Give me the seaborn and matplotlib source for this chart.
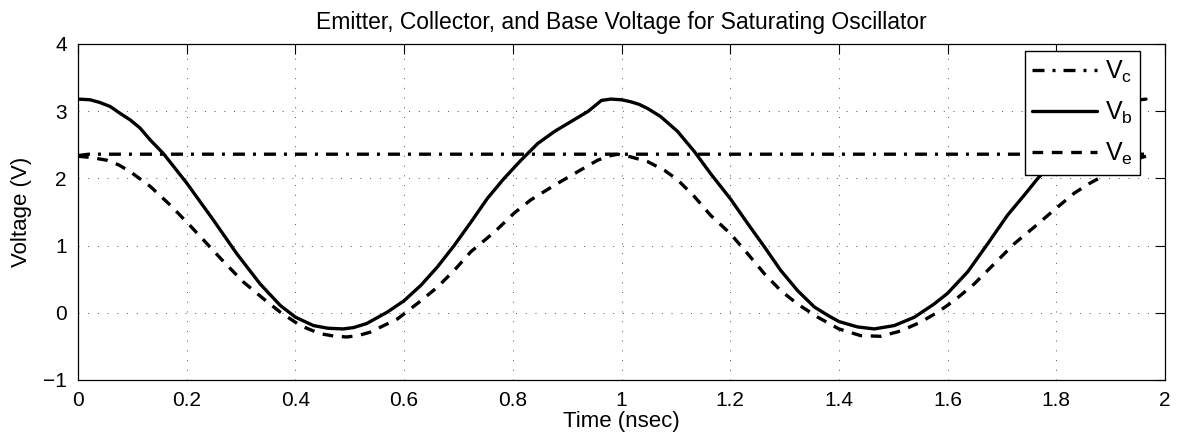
import matplotlib
matplotlib.use("Agg")
import matplotlib.pyplot as plt
import seaborn as sns

# ---- data ----
t_c = [0.0, 0.02, 1.965]
v_c = [2.34, 2.36, 2.36]

t_b = [0, 0.022, 0.04, 0.059, 0.077, 0.096, 0.114, 0.133, 0.157, 0.2, 0.249, 0.292, 0.335,
       0.372, 0.4, 0.433, 0.46, 0.488, 0.507, 0.531, 0.569, 0.6, 0.631, 0.661, 0.692, 0.723,
       0.753, 0.784, 0.815, 0.846, 0.877, 0.908, 0.939, 0.963, 0.98, 1.0, 1.017, 1.033, 1.048,
       1.072, 1.103, 1.134, 1.164, 1.2, 1.232, 1.263, 1.293, 1.324, 1.355, 1.38, 1.4, 1.434,
       1.465, 1.502, 1.539, 1.575, 1.6, 1.637, 1.674, 1.71, 1.741, 1.766, 1.797, 1.828, 1.859,
       1.89, 1.921, 1.945, 1.965]
v_b = [3.18, 3.17, 3.13, 3.07, 2.97, 2.87, 2.75, 2.57, 2.37, 1.93, 1.38, 0.88, 0.43,
       0.11, -0.065, -0.19, -0.23, -0.24, -0.22, -0.16, 0.01, 0.18, 0.41, 0.68, 1.0, 1.35,
       1.70, 2.0, 2.27, 2.52, 2.70, 2.85, 3.0, 3.16, 3.18, 3.17, 3.14, 3.10, 3.04,
       2.92, 2.70, 2.40, 2.07, 1.70, 1.33, 0.98, 0.63, 0.33, 0.085, -0.04, -0.13, -0.21,
       -0.24, -0.19, -0.065, 0.13, 0.29, 0.61, 1.03, 1.45, 1.75, 2.0, 2.27, 2.52, 2.70,
       2.85, 3.0, 3.16, 3.18]

t_e = [0, 0.025, 0.053, 0.075, 0.096, 0.133, 0.17, 0.2, 0.237, 0.268, 0.304, 0.341, 0.372,
       0.409, 0.445, 0.47, 0.494, 0.515, 0.537, 0.588, 0.631, 0.661, 0.692, 0.723, 0.766,
       0.802, 0.833, 0.877, 0.913, 0.956, 0.975, 0.993, 1.017, 1.048, 1.079, 1.103, 1.134,
       1.164, 1.2, 1.232, 1.263, 1.293, 1.324, 1.361, 1.4, 1.44, 1.477, 1.514, 1.55, 1.58,
       1.612, 1.649, 1.686, 1.723, 1.76, 1.796, 1.833, 1.86, 1.896, 1.94, 1.965]
v_e = [2.33, 2.31, 2.27, 2.20, 2.10, 1.88, 1.60, 1.35, 1.03, 0.76, 0.46, 0.21, 0.01,
       -0.19, -0.31, -0.345, -0.36, -0.34, -0.29, -0.09, 0.18, 0.38, 0.63, 0.91, 1.20,
       1.48, 1.68, 1.90, 2.07, 2.27, 2.33, 2.36, 2.32, 2.25, 2.12, 1.98, 1.73,
       1.45, 1.18, 0.88, 0.58, 0.33, 0.13, -0.065, -0.24, -0.34, -0.35, -0.27, -0.14, 0.0,
       0.18, 0.43, 0.73, 1.03, 1.28, 1.53, 1.78, 1.92, 2.08, 2.27, 2.33]

labels = [r"$\mathrm{V_c}$", r"$\mathrm{V_b}$", r"$\mathrm{V_e}$"]
x_ticks = [0, 0.2, 0.4, 0.6, 0.8, 1, 1.2, 1.4, 1.6, 1.8, 2]
x_ticklabels = ["0", "0.2", "0.4", "0.6", "0.8", "1", "1.2", "1.4", "1.6", "1.8", "2"]
y_ticks = [-1, 0, 1, 2, 3, 4]
y_ticklabels = ["\u22121", "0", "1", "2", "3", "4"]

# ---- style ----
sns.set_style("white")
plt.rcParams["font.family"] = ["Liberation Sans", "DejaVu Sans"]
plt.rcParams["mathtext.fontset"] = "custom"
plt.rcParams["mathtext.rm"] = "Liberation Sans"
plt.rcParams["mathtext.it"] = "Liberation Sans:italic"
plt.rcParams["text.color"] = "black"
plt.rcParams["axes.labelcolor"] = "black"

fig = plt.figure(figsize=(11.77, 4.47), dpi=100)
ax = fig.add_axes([0.0663, 0.1499, 0.9235, 0.7517])

lw = 2.4
sns.lineplot(x=t_c, y=v_c, ax=ax, color="black", lw=lw, label=labels[0], estimator=None)
sns.lineplot(x=t_b, y=v_b, ax=ax, color="black", lw=lw, label=labels[1], estimator=None)
sns.lineplot(x=t_e, y=v_e, ax=ax, color="black", lw=lw, label=labels[2], estimator=None)
lines = ax.get_lines()
lines[0].set_dashes((3.6, 2.4, 0.9, 2.4))
lines[2].set_dashes((3.2, 2.6))
for ln in lines:
    ln.set_solid_joinstyle("round")
    ln.set_dash_joinstyle("round")

ax.set_xlim(0, 2)
ax.set_ylim(-1, 4)
ax.set_xticks(x_ticks)
ax.set_xticklabels(x_ticklabels)
ax.set_yticks(y_ticks)
ax.set_yticklabels(y_ticklabels)
ax.tick_params(direction="in", length=7, width=0.8, top=True, right=True,
               labelsize=15, colors="black", pad=8)
ax.grid(True, color="#555555", linestyle=(0, (1, 9)), linewidth=0.7)
for s in ax.spines.values():
    s.set_visible(True)
    s.set_color("black")
    s.set_linewidth(0.9)

ax.set_xlabel("Time (nsec)", fontsize=16, labelpad=1, color="black")
ax.set_ylabel("Voltage (V)", fontsize=16, labelpad=8, color="black")
ax.set_title("Emitter, Collector, and Base Voltage for Saturating Oscillator",
             fontsize=16.5, pad=11, color="black")

leg = ax.legend(loc="upper right", bbox_to_anchor=(0.977, 0.979), borderaxespad=0,
                fontsize=18, handlelength=2.6, frameon=True, fancybox=False,
                framealpha=1, edgecolor="black", borderpad=0.3, labelspacing=0.6,
                handletextpad=0.3)
leg.get_frame().set_linewidth(1.0)
for h in leg.get_lines():
    h.set_linewidth(lw)
for txt in leg.get_texts():
    txt.set_color("black")

fig.savefig("out.png", dpi=100)
